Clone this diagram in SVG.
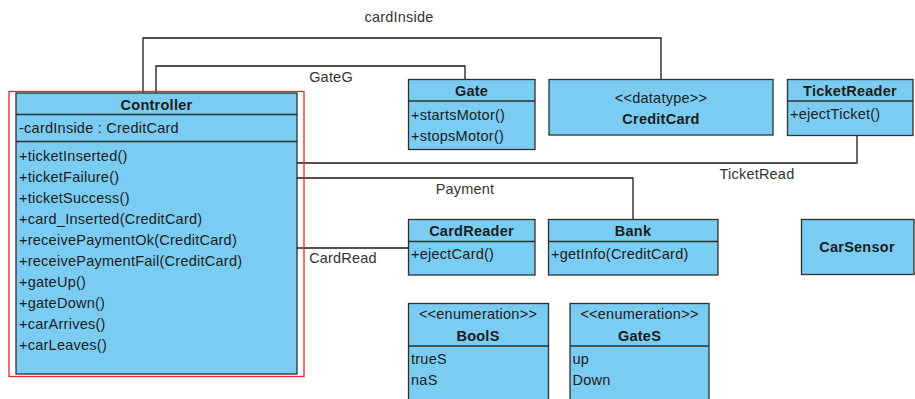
<svg xmlns="http://www.w3.org/2000/svg" width="915" height="399" viewBox="0 0 915 399">
<style>
.box{fill:#7accf2;stroke:#2e2e2e;stroke-width:1.3}
.sep{stroke:#2e2e2e;stroke-width:1.3}
.t{font-family:"Liberation Sans",Arial,sans-serif;font-size:14.5px;fill:#1c1c1c;letter-spacing:0.25px}
.b{font-weight:bold;text-anchor:middle}
.c{text-anchor:middle}
.lbl{font-family:"Liberation Sans",Arial,sans-serif;font-size:14.5px;fill:#333;text-anchor:middle;letter-spacing:0.2px}
.con{fill:none;stroke:#1a1a1a;stroke-width:1.3}
</style>
<rect width="915" height="399" fill="#fff"/>
<g id="connectors">
<polyline class="con" points="143,93 143,38 661,38 661,79"/>
<polyline class="con" points="156,93 156,66 465,66 465,79"/>
<polyline class="con" points="297,163 857,163 857,135.5"/>
<polyline class="con" points="297,178 633,178 633,219"/>
<polyline class="con" points="297,248 408,248"/>
<text class="lbl" x="399" y="22">cardInside</text>
<text class="lbl" x="331" y="82">GateG</text>
<text class="lbl" x="757" y="179">TicketRead</text>
<text class="lbl" x="465" y="194">Payment</text>
<text class="lbl" x="343" y="263">CardRead</text>
</g>
<g id="Controller">
<rect class="box" x="16" y="93" width="281" height="281"/>
<line class="sep" x1="16" y1="114.5" x2="297" y2="114.5"/>
<line class="sep" x1="16" y1="141.5" x2="297" y2="141.5"/>
<text class="t b" x="156.5" y="109.5">Controller</text>
<text class="t" x="19" y="133">-cardInside : CreditCard</text>
<text class="t" x="19" y="160.5">+ticketInserted()</text>
<text class="t" x="19" y="181.5">+ticketFailure()</text>
<text class="t" x="19" y="202.5">+ticketSuccess()</text>
<text class="t" x="19" y="223.5">+card_Inserted(CreditCard)</text>
<text class="t" x="19" y="244.5">+receivePaymentOk(CreditCard)</text>
<text class="t" x="19" y="265.5">+receivePaymentFail(CreditCard)</text>
<text class="t" x="19" y="286.5">+gateUp()</text>
<text class="t" x="19" y="307.5">+gateDown()</text>
<text class="t" x="19" y="328.5">+carArrives()</text>
<text class="t" x="19" y="349.5">+carLeaves()</text>
<rect x="9" y="91.5" width="295" height="285" fill="none" stroke="#e8262b" stroke-width="1.3"/>
</g>
<g id="Gate">
<rect class="box" x="408.5" y="79.5" width="126.5" height="70"/>
<line class="sep" x1="408.5" y1="101" x2="535" y2="101"/>
<text class="t b" x="471.5" y="96">Gate</text>
<text class="t" x="411" y="120">+startsMotor()</text>
<text class="t" x="411" y="140.5">+stopsMotor()</text>
</g>
<g id="CreditCard">
<rect class="box" x="549" y="79.5" width="224" height="55.5"/>
<text class="t c" x="661" y="103">&lt;&lt;datatype&gt;&gt;</text>
<text class="t b" x="661" y="124">CreditCard</text>
</g>
<g id="TicketReader">
<rect class="box" x="787.5" y="79.5" width="125.5" height="56"/>
<line class="sep" x1="787.5" y1="101" x2="913" y2="101"/>
<text class="t b" x="850" y="96">TicketReader</text>
<text class="t" x="790" y="119">+ejectTicket()</text>
</g>
<g id="CardReader">
<rect class="box" x="408.5" y="219.5" width="126.5" height="55.5"/>
<line class="sep" x1="408.5" y1="241.5" x2="535" y2="241.5"/>
<text class="t b" x="471.5" y="236">CardReader</text>
<text class="t" x="411" y="259">+ejectCard()</text>
</g>
<g id="Bank">
<rect class="box" x="548.5" y="219.5" width="169.5" height="55.5"/>
<line class="sep" x1="548.5" y1="241.5" x2="718" y2="241.5"/>
<text class="t b" x="633" y="236">Bank</text>
<text class="t" x="551" y="259">+getInfo(CreditCard)</text>
</g>
<g id="CarSensor">
<rect class="box" x="801.5" y="219.5" width="112.5" height="55"/>
<text class="t b" x="857" y="252">CarSensor</text>
</g>
<g id="BoolS">
<rect class="box" x="408.5" y="303.5" width="140" height="110"/>
<line class="sep" x1="408.5" y1="346" x2="548.5" y2="346"/>
<text class="t c" x="478" y="319">&lt;&lt;enumeration&gt;&gt;</text>
<text class="t b" x="478" y="341">BoolS</text>
<text class="t" x="411" y="364">trueS</text>
<text class="t" x="411" y="385">naS</text>
</g>
<g id="GateS">
<rect class="box" x="570" y="303.5" width="139" height="110"/>
<line class="sep" x1="570" y1="346" x2="709" y2="346"/>
<text class="t c" x="639.5" y="319">&lt;&lt;enumeration&gt;&gt;</text>
<text class="t b" x="639.5" y="341">GateS</text>
<text class="t" x="572.5" y="364">up</text>
<text class="t" x="572.5" y="385">Down</text>
</g>
</svg>
